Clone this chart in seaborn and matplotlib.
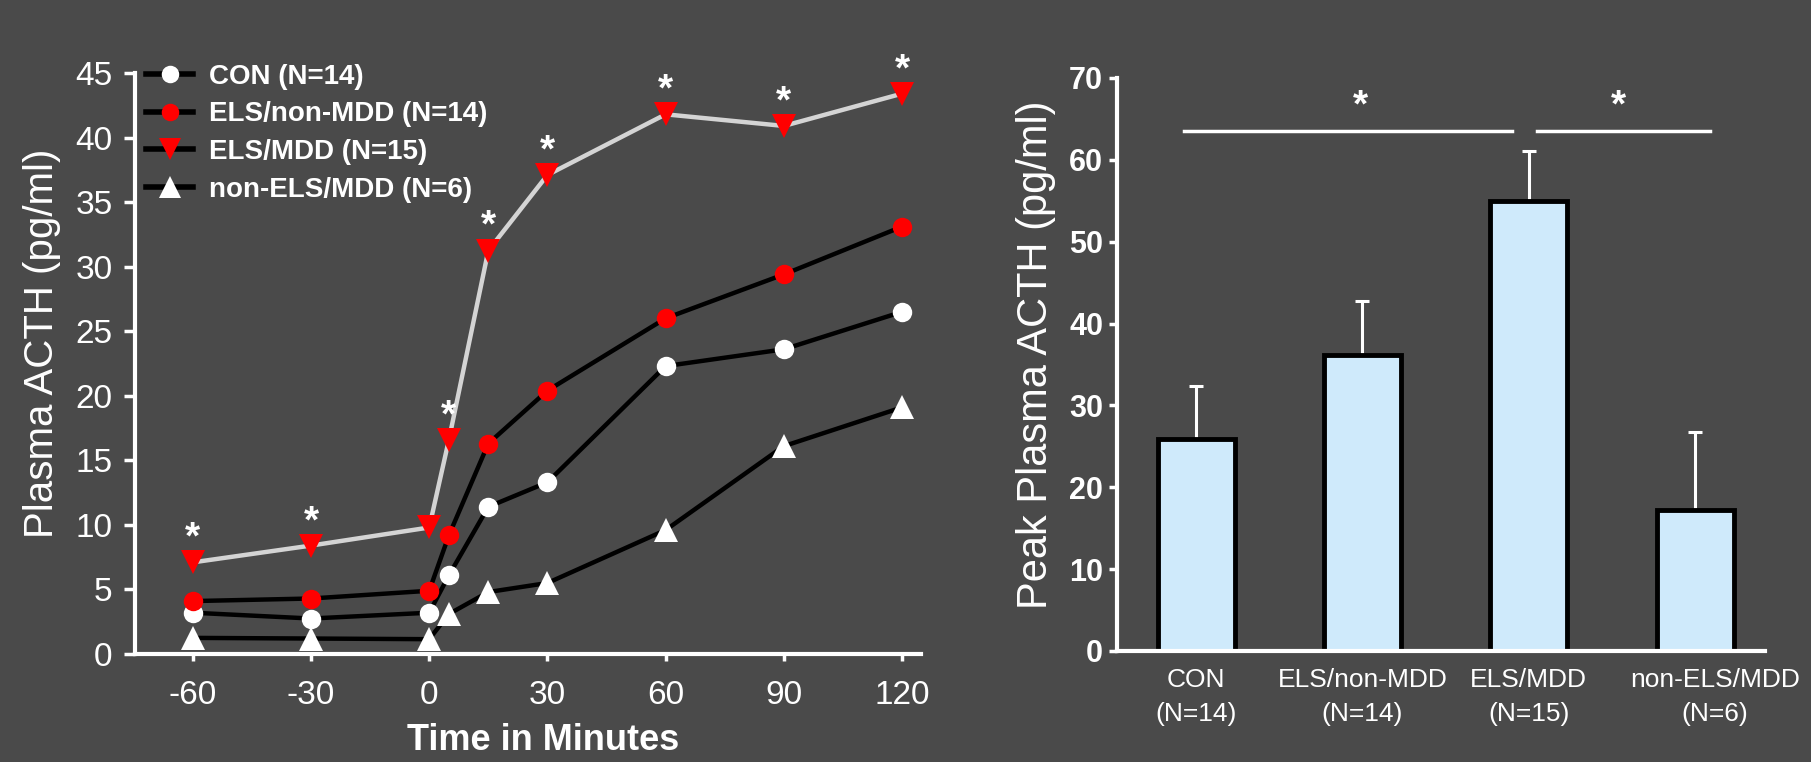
import numpy as np
import pandas as pd
import matplotlib
matplotlib.use('Agg')
import matplotlib.pyplot as plt
import matplotlib.transforms as mtransforms
from matplotlib.lines import Line2D
import seaborn as sns

# time course data
times = [-60, -30, 0, 5, 15, 30, 60, 90, 120]
con = [3.2, 2.75, 3.2, 6.1, 11.4, 13.3, 22.3, 23.6, 26.5]
els_nonmdd = [4.1, 4.3, 4.9, 9.2, 16.3, 20.4, 26.0, 29.4, 33.1]
els_mdd = [7.1, 8.4, 9.8, 16.6, 31.25, 37.1, 41.8, 40.9, 43.4]
nonels_mdd = [1.25, 1.2, 1.15, 3.1, 4.8, 5.5, 9.6, 16.1, 19.1]
star_times = [-60, -30, 5, 15, 30, 60, 90, 120]

# peak data
groups = ['CON\n(N=14)', 'ELS/non-MDD\n(N=14)', 'ELS/MDD\n(N=15)', 'non-ELS/MDD\n(N=6)']
peak_mean = [25.9, 36.2, 55.0, 17.2]
peak_err = [6.5, 6.5, 6.1, 9.6]

bg = '#4a4a4a'
plt.rcParams['font.family'] = ['Liberation Sans', 'DejaVu Sans']
plt.rcParams['axes.unicode_minus'] = False
plt.rcParams['text.color'] = 'white'
plt.rcParams['axes.labelcolor'] = 'white'
plt.rcParams['xtick.color'] = 'white'
plt.rcParams['ytick.color'] = 'white'

fig = plt.figure(figsize=(18.11, 7.62), dpi=100, facecolor=bg)
ax1 = fig.add_axes([0.0745, 0.1417, 0.434, 0.7625])
ax2 = fig.add_axes([0.6168, 0.1457, 0.3578, 0.752])

# ---- left: time course ----
series = [
    ('CON (N=14)', con, 'o', 'white', 'black', 14),
    ('ELS/non-MDD (N=14)', els_nonmdd, 'o', 'red', 'black', 14),
    ('ELS/MDD (N=15)', els_mdd, 'v', 'red', '#d4d4d4', 17),
    ('non-ELS/MDD (N=6)', nonels_mdd, '^', 'white', 'black', 17),
]
handles = []
for name, vals, mk, fc, lc, ms in series:
    sns.lineplot(x=times, y=vals, ax=ax1, color=lc, lw=3.2, marker=mk, markersize=ms,
                 markerfacecolor=fc, markeredgecolor=fc, markeredgewidth=0, clip_on=False)
    handles.append(Line2D([], [], color='black', lw=4, marker=mk, markersize=ms * 0.9,
                          markerfacecolor=fc, markeredgewidth=0, label=name))

for t in star_times:
    ax1.annotate('*', xy=(t, els_mdd[times.index(t)]), xytext=(0, 4), textcoords='offset points',
                 ha='center', va='bottom', fontsize=28, fontweight='bold', color='white')

ax1.set_xlim(-74.7, 124.8)
ax1.set_ylim(0, 45)
ax1.set_xticks([-60, -30, 0, 30, 60, 90, 120])
ax1.set_yticks(np.arange(0, 46, 5))
ax1.tick_params(axis='x', labelsize=24, length=5, width=2.5, pad=14)
ax1.tick_params(axis='y', labelsize=24, length=8, width=2.5, pad=8)
ax1.set_xlabel('Time in Minutes', fontsize=26, fontweight='bold', va='center')
ax1.xaxis.set_label_coords(0.519, -0.148)
ax1.set_ylabel('Plasma ACTH (pg/ml)', fontsize=29, va='center')
ax1.yaxis.set_label_coords(-0.118, 0.534)

leg = ax1.legend(handles=handles, loc='upper left', bbox_to_anchor=(0.0, 1.035), frameon=False,
                 fontsize=20, handlelength=1.7, handletextpad=0.55, labelspacing=0.42, borderaxespad=0)
for txt in leg.get_texts():
    txt.set_color('white')
    txt.set_fontweight('bold')

# ---- right: peak bars ----
df = pd.DataFrame({'group': groups, 'peak': peak_mean})
sns.barplot(data=df, x='group', y='peak', ax=ax2, color='#cfeafb', saturation=1,
            edgecolor='black', linewidth=3.5, width=0.463, errorbar=None, zorder=2)
ax2.errorbar(range(len(groups)), peak_mean, yerr=[[0] * 4, peak_err], fmt='none',
             ecolor='white', elinewidth=2.2, capsize=5, capthick=2.2, zorder=1)

sig_y = 63.5
ax2.plot([-0.07, 1.90], [sig_y, sig_y], color='white', lw=2.5, clip_on=False)
ax2.plot([2.05, 3.09], [sig_y, sig_y], color='white', lw=2.5, clip_on=False)
ax2.text(0.99, sig_y + 0.8, '*', ha='center', va='bottom', fontsize=28, fontweight='bold')
ax2.text(2.54, sig_y + 0.8, '*', ha='center', va='bottom', fontsize=28, fontweight='bold')

ax2.set_xlim(-0.475, 3.42)
ax2.set_ylim(0, 70)
ax2.set_yticks(np.arange(0, 71, 10))
ax2.tick_params(axis='y', labelsize=22, length=6, width=2.5, pad=4)
ax2.tick_params(axis='x', labelsize=19, length=0, pad=12)
for lab in ax2.get_yticklabels():
    lab.set_fontweight('bold')
xlabs = ax2.get_xticklabels()
for lab in xlabs:
    lab.set_linespacing(1.55)
# last category label sits a little right of its bar
xlabs[-1].set_transform(xlabs[-1].get_transform() +
                        mtransforms.ScaledTranslation(0.2, 0, fig.dpi_scale_trans))
ax2.set_xlabel('')
ax2.set_ylabel('Peak Plasma ACTH (pg/ml)', fontsize=30, va='center')
ax2.yaxis.set_label_coords(-0.125, 0.517)

for ax in (ax1, ax2):
    ax.set_facecolor(bg)
    for side in ('top', 'right'):
        ax.spines[side].set_visible(False)
    for side in ('left', 'bottom'):
        ax.spines[side].set_color('white')
        ax.spines[side].set_linewidth(3)

fig.savefig('out.png', dpi=100, facecolor=bg)
